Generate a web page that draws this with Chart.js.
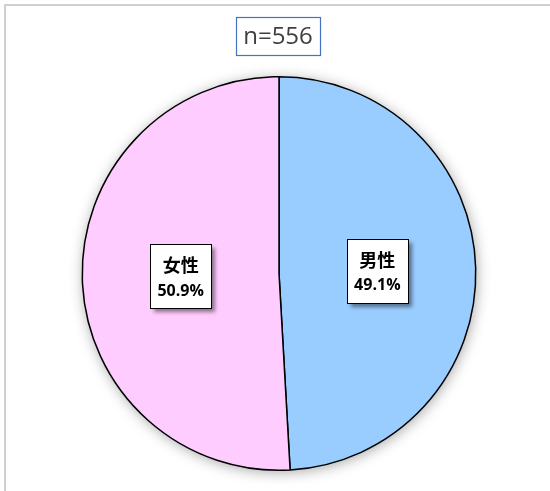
<!DOCTYPE html>
<html>
<head>
<meta charset="utf-8">
<script src="https://cdn.jsdelivr.net/npm/chart.js@4/dist/chart.umd.min.js"></script>
<style>
html,body{margin:0;padding:0;background:#fff;}
#wrap{width:550px;height:491px;position:relative;}
</style>
</head>
<body>
<div id="wrap"><canvas id="c" width="550" height="491"></canvas></div>
<script>
const categories = ['男性', '女性'];
const values = [49.1, 50.9];
const sampleLabel = 'n=556';
const sliceColors = ['#99CCFF', '#FFCCFF'];

const framePlugin = {
  id: 'frame',
  beforeDraw(chart) {
    const ctx = chart.ctx;
    ctx.save();
    ctx.fillStyle = '#ffffff';
    ctx.fillRect(0, 0, chart.width, chart.height);
    ctx.strokeStyle = '#D0D0D0';
    ctx.lineWidth = 2;
    ctx.beginPath();
    ctx.moveTo(5, chart.height + 5);
    ctx.lineTo(5, 5);
    ctx.lineTo(chart.width + 5, 5);
    ctx.stroke();
    // title box
    ctx.font = '24px "Open Sans", "Liberation Sans", sans-serif';
    const tw = ctx.measureText(sampleLabel).width;
    const bw = Math.round(tw + 14), bh = 38;
    const cx = 278, cy = 36;
    const bx = Math.round(cx - bw / 2) + 0.5, by = Math.round(cy - bh / 2) + 0.5;
    ctx.fillStyle = '#ffffff';
    ctx.fillRect(bx, by, bw, bh);
    ctx.strokeStyle = '#4472C4';
    ctx.lineWidth = 1.2;
    ctx.strokeRect(bx, by, bw, bh);
    ctx.fillStyle = '#404040';
    ctx.textAlign = 'center';
    ctx.textBaseline = 'middle';
    ctx.fillText(sampleLabel, cx, cy + 1);
    ctx.restore();
  },
  beforeDatasetsDraw(chart) {
    const meta = chart.getDatasetMeta(0);
    const arc = meta.data[0];
    if (!arc) return;
    const ctx = chart.ctx;
    ctx.save();
    ctx.shadowColor = 'rgba(0,0,0,0.35)';
    ctx.shadowBlur = 14;
    ctx.shadowOffsetX = 1;
    ctx.shadowOffsetY = 2;
    ctx.fillStyle = '#ffffff';
    ctx.beginPath();
    ctx.arc(arc.x, arc.y, arc.outerRadius, 0, Math.PI * 2);
    ctx.fill();
    ctx.restore();
  },
  afterDatasetsDraw(chart) {
    const meta = chart.getDatasetMeta(0);
    const ctx = chart.ctx;
    meta.data.forEach((el, i) => {
      const p = el.getCenterPoint();
      const w = 61, h = 64;
      const x = Math.round(p.x - w / 2) + 0.5, y = Math.round(p.y - h / 2) + 0.5;
      ctx.save();
      ctx.shadowColor = 'rgba(0,0,0,0.45)';
      ctx.shadowBlur = 4;
      ctx.shadowOffsetX = 3;
      ctx.shadowOffsetY = 3;
      ctx.fillStyle = '#ffffff';
      ctx.fillRect(x, y, w, h);
      ctx.restore();
      ctx.save();
      ctx.strokeStyle = '#000000';
      ctx.lineWidth = 1;
      ctx.strokeRect(x, y, w, h);
      ctx.fillStyle = '#000000';
      ctx.textAlign = 'center';
      ctx.textBaseline = 'middle';
      ctx.font = 'bold 18px "Noto Sans CJK JP", sans-serif';
      ctx.fillText(categories[i], p.x, p.y - 11);
      ctx.font = 'bold 16px "Open Sans", "Liberation Sans", sans-serif';
      ctx.fillText(values[i].toFixed(1) + '%', p.x, p.y + 15);
      ctx.restore();
    });
  }
};

new Chart(document.getElementById('c'), {
  type: 'pie',
  data: {
    labels: categories,
    datasets: [{
      data: values,
      backgroundColor: sliceColors,
      borderColor: '#000000',
      borderWidth: 1.5
    }]
  },
  options: {
    responsive: false,
    animation: false,
    events: [],
    layout: { padding: { top: 76, bottom: 20, left: 79, right: 71 } },
    plugins: {
      legend: { display: false },
      tooltip: { enabled: false },
      title: { display: false }
    }
  },
  plugins: [framePlugin]
});
</script>
</body>
</html>
